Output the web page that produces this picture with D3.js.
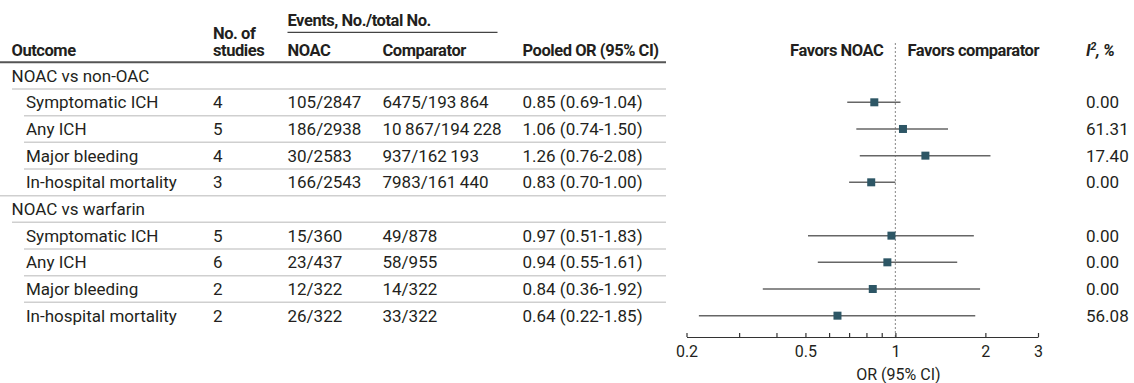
<!DOCTYPE html>
<html><head><meta charset="utf-8">
<script src="https://cdn.jsdelivr.net/npm/d3@7"></script>
<style>
body{margin:0;background:#fff;}
svg text{font-family:Roboto,"Liberation Sans",sans-serif;fill:#231f20;}
</style></head>
<body><svg id="c" width="1134" height="383"></svg>
<script>
const groups = ["NOAC vs non-OAC", "NOAC vs warfarin"];
const outcomes = ["Symptomatic ICH", "Any ICH", "Major bleeding", "In-hospital mortality",
                  "Symptomatic ICH", "Any ICH", "Major bleeding", "In-hospital mortality"];
const groupOf = [0, 0, 0, 0, 1, 1, 1, 1];
const studies = [4, 5, 4, 3, 5, 6, 2, 2];
const noacEvents = ["105/2847", "186/2938", "30/2583", "166/2543", "15/360", "23/437", "12/322", "26/322"];
const compEvents = ["6475/193\u2009864", "10\u2009867/194\u2009228", "937/162\u2009193", "7983/161\u2009440",
                    "49/878", "58/955", "14/322", "33/322"];
const orVal = [0.85, 1.06, 1.26, 0.83, 0.97, 0.94, 0.84, 0.64];
const ciLo = [0.69, 0.74, 0.76, 0.70, 0.51, 0.55, 0.36, 0.22];
const ciHi = [1.04, 1.50, 2.08, 1.00, 1.83, 1.61, 1.92, 1.85];
const i2 = ["0.00", "61.31", "17.40", "0.00", "0.00", "0.00", "0.00", "56.08"];
const tickValues = [0.2, 0.3, 0.4, 0.5, 0.6, 0.7, 0.8, 0.9, 1, 2, 3];
const tickLabels = {0.2: "0.2", 0.5: "0.5", 1: "1", 2: "2", 3: "3"};

// build row list: group header followed by its outcomes
const rows = [];
groups.forEach((g, gi) => {
  rows.push({type: "group", label: g});
  outcomes.forEach((o, i) => { if (groupOf[i] === gi) rows.push({type: "item", i}); });
});

const svg = d3.select("#c");
const FS = 17, FB = 16.5;
const y = d3.scaleBand().domain(d3.range(rows.length)).range([62.3, 62.3 + 26.67 * rows.length]);
const x = d3.scaleLog().domain([0.2, 3]).range([686.5, 1038]);
const col = {out: 11.5, sub: 26, st: 213, noac: 287.5, comp: 382.5, pooled: 522.5, i2: 1086};
const tableRight = 666;
const axisY = 337;
const base = 6;

// header
const hdr = svg.append("g").style("font-weight", "bold").style("font-size", FB + "px")
  .style("letter-spacing", "-0.45px");
hdr.append("text").attr("x", col.out).attr("y", 56).text("Outcome");
hdr.append("text").attr("x", col.st).attr("y", 39).text("No. of");
hdr.append("text").attr("x", col.st).attr("y", 56).text("studies");
hdr.append("text").attr("x", col.noac).attr("y", 25.5).text("Events, No./total No.");
hdr.append("text").attr("x", col.noac).attr("y", 56).text("NOAC");
hdr.append("text").attr("x", col.comp).attr("y", 56).text("Comparator");
hdr.append("text").attr("x", col.pooled).attr("y", 56).text("Pooled OR (95% CI)");
hdr.append("text").attr("x", x(1) - 12).attr("y", 56).attr("text-anchor", "end").text("Favors NOAC");
hdr.append("text").attr("x", x(1) + 12).attr("y", 56).text("Favors comparator");
const it = hdr.append("text").attr("x", col.i2).attr("y", 56).style("font-style", "italic");
it.append("tspan").text("I");
it.append("tspan").attr("dy", -6).style("font-size", "11px").text("2");
it.append("tspan").attr("dy", 6).text(", %");

svg.append("line").attr("x1", col.noac).attr("x2", 497.5).attr("y1", 32.3).attr("y2", 32.3)
  .attr("stroke", "#444").attr("stroke-width", 1.3);
svg.append("line").attr("x1", 0).attr("x2", tableRight).attr("y1", 62.3).attr("y2", 62.3)
  .attr("stroke", "#555").attr("stroke-width", 2);

// separators
rows.forEach((r, k) => {
  if (k === rows.length - 1) return;
  const yy = y(k) + y.bandwidth();
  const next = rows[k + 1];
  let x1 = 24;
  if (r.type === "group") x1 = 12;
  else if (next.type === "group") x1 = 0;
  svg.append("line").attr("x1", x1).attr("x2", tableRight).attr("y1", yy).attr("y2", yy)
    .attr("stroke", "#cfcfcf").attr("stroke-width", 1.5);
});

// table text
const body = svg.append("g").style("font-size", FS + "px");
rows.forEach((r, k) => {
  const cy = y(k) + y.bandwidth() / 2 + base;
  if (r.type === "group") {
    body.append("text").attr("x", col.out).attr("y", cy).text(r.label);
    return;
  }
  const i = r.i;
  body.append("text").attr("x", col.sub).attr("y", cy).text(outcomes[i]);
  body.append("text").attr("x", col.st).attr("y", cy).text(studies[i]);
  body.append("text").attr("x", col.noac).attr("y", cy).text(noacEvents[i]);
  body.append("text").attr("x", col.comp).attr("y", cy).text(compEvents[i]);
  body.append("text").attr("x", col.pooled).attr("y", cy)
    .text(`${orVal[i].toFixed(2)} (${ciLo[i].toFixed(2)}-${ciHi[i].toFixed(2)})`);
  body.append("text").attr("x", col.i2).attr("y", cy).text(i2[i]);
});

// reference line
svg.append("line").attr("x1", x(1)).attr("x2", x(1)).attr("y1", 43).attr("y2", axisY)
  .attr("stroke", "#999").attr("stroke-width", 1.2).attr("stroke-dasharray", "2,2");

// forest marks
const items = rows.map((r, k) => ({r, k})).filter(d => d.r.type === "item");
svg.append("g").selectAll("line").data(items).join("line")
  .attr("x1", d => x(ciLo[d.r.i])).attr("x2", d => x(ciHi[d.r.i]))
  .attr("y1", d => y(d.k) + y.bandwidth() / 2).attr("y2", d => y(d.k) + y.bandwidth() / 2)
  .attr("stroke", "#666").attr("stroke-width", 1.5);
svg.append("g").selectAll("rect").data(items).join("rect")
  .attr("x", d => x(orVal[d.r.i]) - 4).attr("y", d => y(d.k) + y.bandwidth() / 2 - 4)
  .attr("width", 8).attr("height", 8).attr("fill", "#2d5665");

// axis
const axis = d3.axisBottom(x).tickValues(tickValues)
  .tickFormat(v => tickLabels[v] || "").tickSizeInner(-4).tickSizeOuter(0).tickPadding(9);
const ag = svg.append("g").attr("transform", `translate(0,${axisY})`).call(axis);
ag.select(".domain").attr("stroke", "#333").attr("stroke-width", 1.2);
ag.selectAll(".tick line").attr("stroke", "#333").attr("stroke-width", 1.2);
ag.selectAll(".tick text").style("font-size", "16px").style("font-family", "Roboto, sans-serif").attr("fill", "#231f20");
svg.append("text").attr("x", x(1) + 3).attr("y", 379.5).attr("text-anchor", "middle")
  .style("font-size", "16px").text("OR (95% CI)");
</script></body></html>
